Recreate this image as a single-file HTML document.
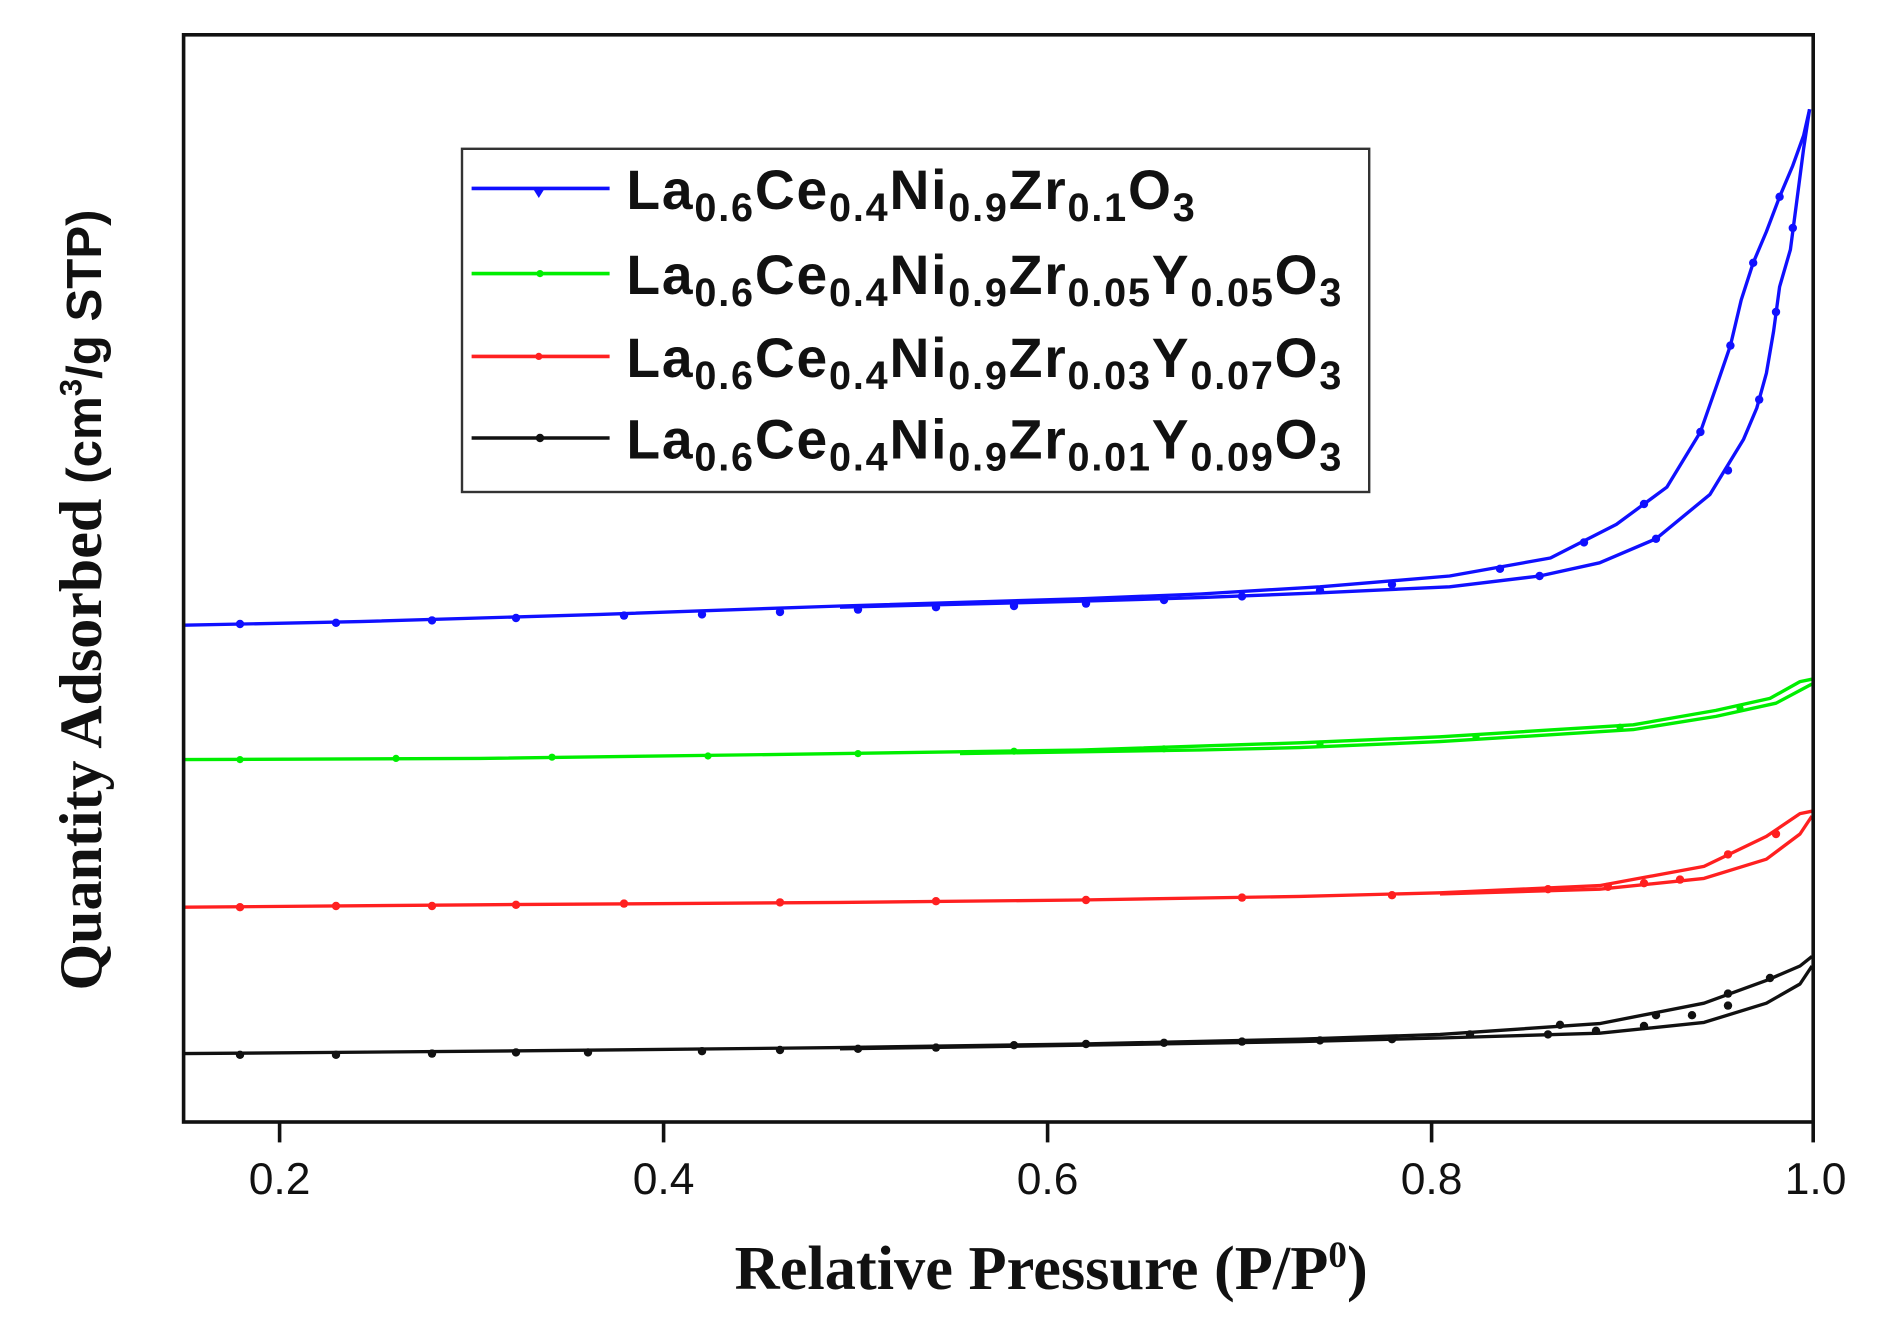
<!DOCTYPE html>
<html><head><meta charset="utf-8"><style>
html,body{margin:0;padding:0;background:#fff;}
svg{display:block;}
</style></head><body>
<svg width="1878" height="1323" viewBox="0 0 1565 1102.5" xmlns="http://www.w3.org/2000/svg">
<rect width="1565" height="1102.5" fill="#fff"/>
<g fill="none" stroke-width="2.8" stroke-linejoin="round">
<!-- blue -->
<polyline stroke="#1010ff" points="153,521 300,518 500,512 700,505 900,499 1000,495 1100,489 1208,480 1292,465 1347,437 1389,406 1417,360 1431,320 1442,288 1451,250 1461,219 1472,193 1483,164 1494,138 1503,113 1508,91"/>
<polyline stroke="#1010ff" points="700,506 900,501 1000,498 1100,494 1208,489 1283,480 1333,469 1380,449 1425,412 1453,366 1464,340 1472,311 1478,276 1483,239 1492,208 1497,170 1503,124 1508,91"/>
<!-- green -->
<polyline stroke="#00ee00" points="153,633 400,632 700,628 900,625 1083,619 1200,614 1361,604 1430,592 1475,582 1500,568 1510,566"/>
<polyline stroke="#00ee00" points="800,628 1000,625 1083,623 1200,618 1361,608 1430,597 1480,586 1510,570"/>
<!-- red -->
<polyline stroke="#ff2020" points="153,756 400,754 700,752 900,750 1083,747 1200,744 1333,738 1420,722 1472,697 1500,678 1510,676"/>
<polyline stroke="#ff2020" points="1200,745 1333,741 1420,732 1472,716 1500,695 1510,680"/>
<!-- black -->
<polyline stroke="#111" points="153,878 400,876 700,873 900,870 1083,866 1200,862 1333,853 1420,836 1472,817 1500,805 1510,797"/>
<polyline stroke="#111" points="700,874 900,871 1083,868 1200,865 1333,861 1420,852 1472,836 1500,820 1510,805"/>
</g>
<g fill="#1010ff">
<circle cx="200" cy="520" r="3.5"/><circle cx="280" cy="519" r="3.5"/><circle cx="360" cy="517" r="3.5"/><circle cx="430" cy="515" r="3.5"/><circle cx="520" cy="513" r="3.5"/><circle cx="585" cy="512" r="3.5"/><circle cx="650" cy="510" r="3.5"/><circle cx="715" cy="508" r="3.5"/><circle cx="780" cy="506" r="3.5"/><circle cx="845" cy="505" r="3.5"/><circle cx="905" cy="503" r="3.5"/><circle cx="970" cy="500" r="3.5"/><circle cx="1035" cy="497" r="3.5"/><circle cx="1100" cy="492" r="3.5"/><circle cx="1160" cy="487" r="3.5"/><circle cx="1250" cy="474" r="3.5"/><circle cx="1320" cy="452" r="3.5"/><circle cx="1370" cy="420" r="3.5"/><circle cx="1417" cy="360" r="3.5"/><circle cx="1442" cy="288" r="3.5"/><circle cx="1461" cy="219" r="3.5"/><circle cx="1483" cy="164" r="3.5"/><circle cx="1283" cy="480" r="3.5"/><circle cx="1380" cy="449" r="3.5"/><circle cx="1440" cy="392" r="3.5"/><circle cx="1466" cy="333" r="3.5"/><circle cx="1480" cy="260" r="3.5"/><circle cx="1494" cy="190" r="3.5"/>
</g>
<g fill="#00ee00">
<circle cx="200" cy="633" r="3"/><circle cx="330" cy="632" r="3"/><circle cx="460" cy="631" r="3"/><circle cx="590" cy="630" r="3"/><circle cx="715" cy="628" r="3"/><circle cx="845" cy="626" r="3"/><circle cx="970" cy="624" r="3"/><circle cx="1100" cy="620" r="3"/><circle cx="1230" cy="614" r="3"/><circle cx="1350" cy="606" r="3"/><circle cx="1450" cy="590" r="3"/>
</g>
<g fill="#ff2020">
<circle cx="200" cy="756" r="3.5"/><circle cx="280" cy="755" r="3.5"/><circle cx="360" cy="755" r="3.5"/><circle cx="430" cy="754" r="3.5"/><circle cx="520" cy="753" r="3.5"/><circle cx="650" cy="752" r="3.5"/><circle cx="780" cy="751" r="3.5"/><circle cx="905" cy="750" r="3.5"/><circle cx="1035" cy="748" r="3.5"/><circle cx="1160" cy="746" r="3.5"/><circle cx="1290" cy="741" r="3.5"/><circle cx="1340" cy="739" r="3.5"/><circle cx="1370" cy="736" r="3.5"/><circle cx="1400" cy="733" r="3.5"/><circle cx="1440" cy="712" r="3.5"/><circle cx="1480" cy="695" r="3.5"/>
</g>
<g fill="#111">
<circle cx="200" cy="879" r="3.5"/><circle cx="280" cy="879" r="3.5"/><circle cx="360" cy="878" r="3.5"/><circle cx="430" cy="877" r="3.5"/><circle cx="490" cy="877" r="3.5"/><circle cx="585" cy="876" r="3.5"/><circle cx="650" cy="875" r="3.5"/><circle cx="715" cy="874" r="3.5"/><circle cx="780" cy="873" r="3.5"/><circle cx="845" cy="871" r="3.5"/><circle cx="905" cy="870" r="3.5"/><circle cx="970" cy="869" r="3.5"/><circle cx="1035" cy="868" r="3.5"/><circle cx="1100" cy="867" r="3.5"/><circle cx="1160" cy="866" r="3.5"/><circle cx="1225" cy="862" r="3.5"/><circle cx="1290" cy="862" r="3.5"/><circle cx="1330" cy="859" r="3.5"/><circle cx="1370" cy="855" r="3.5"/><circle cx="1410" cy="846" r="3.5"/><circle cx="1440" cy="838" r="3.5"/><circle cx="1475" cy="815" r="3.5"/><circle cx="1300" cy="854" r="3.5"/><circle cx="1380" cy="846" r="3.5"/><circle cx="1440" cy="828" r="3.5"/>
</g>
<!-- axes -->
<rect x="153" y="29" width="1358" height="906" fill="none" stroke="#111" stroke-width="3"/>
<g stroke="#111" stroke-width="3">
<line x1="233" y1="935" x2="233" y2="952"/><line x1="553" y1="935" x2="553" y2="952"/><line x1="873" y1="935" x2="873" y2="952"/><line x1="1193" y1="935" x2="1193" y2="952"/><line x1="1511" y1="935" x2="1511" y2="952"/>
</g>
<g font-family="'Liberation Sans',Arial,sans-serif" font-size="37" fill="#111" text-anchor="middle">
<text x="233" y="995">0.2</text><text x="553" y="995">0.4</text><text x="873" y="995">0.6</text><text x="1193" y="995">0.8</text><text x="1513" y="995">1.0</text>
</g>
<text x="876" y="1074" text-anchor="middle" font-family="'Liberation Serif','Times New Roman',serif" font-weight="bold" font-size="52" fill="#111">Relative Pressure (P/P<tspan dy="-18" font-size="31">0</tspan><tspan dy="18">)</tspan></text>
<text transform="translate(84,500) rotate(-90)" text-anchor="middle" fill="#111" font-weight="bold"><tspan font-family="'Liberation Serif','Times New Roman',serif" font-size="50">Quantity Adsorbed </tspan><tspan font-family="'Liberation Sans',Arial,sans-serif" font-size="41">(cm</tspan><tspan font-family="'Liberation Sans',Arial,sans-serif" font-size="26" dy="-16">3</tspan><tspan font-family="'Liberation Sans',Arial,sans-serif" font-size="41" dy="16">/g STP)</tspan></text>
<!-- legend -->
<rect x="385" y="124" width="756" height="286" fill="#fff" stroke="#333" stroke-width="2"/>
<g stroke-width="3">
<line x1="393" y1="157" x2="508" y2="157" stroke="#1010ff"/>
<line x1="393" y1="228" x2="508" y2="228" stroke="#00ee00"/>
<line x1="393" y1="297" x2="508" y2="297" stroke="#ff2020"/>
<line x1="393" y1="365" x2="508" y2="365" stroke="#111"/>
</g>
<path d="M444,157 L454,157 L449,165 Z" fill="#1010ff"/>
<circle cx="450" cy="228" r="3" fill="#00ee00"/>
<circle cx="449" cy="297" r="3" fill="#ff2020"/>
<circle cx="450" cy="365" r="3.5" fill="#111"/>
<g font-family="'Liberation Sans',Arial,sans-serif" font-weight="bold" font-size="46" fill="#111" letter-spacing="1.5">
<text x="522" y="174">La<tspan font-size="33" dy="10">0.6</tspan><tspan dy="-10">Ce</tspan><tspan font-size="33" dy="10">0.4</tspan><tspan dy="-10">Ni</tspan><tspan font-size="33" dy="10">0.9</tspan><tspan dy="-10">Zr</tspan><tspan font-size="33" dy="10">0.1</tspan><tspan dy="-10">O</tspan><tspan font-size="33" dy="10">3</tspan></text>
<text x="522" y="245">La<tspan font-size="33" dy="10">0.6</tspan><tspan dy="-10">Ce</tspan><tspan font-size="33" dy="10">0.4</tspan><tspan dy="-10">Ni</tspan><tspan font-size="33" dy="10">0.9</tspan><tspan dy="-10">Zr</tspan><tspan font-size="33" dy="10">0.05</tspan><tspan dy="-10">Y</tspan><tspan font-size="33" dy="10">0.05</tspan><tspan dy="-10">O</tspan><tspan font-size="33" dy="10">3</tspan></text>
<text x="522" y="314">La<tspan font-size="33" dy="10">0.6</tspan><tspan dy="-10">Ce</tspan><tspan font-size="33" dy="10">0.4</tspan><tspan dy="-10">Ni</tspan><tspan font-size="33" dy="10">0.9</tspan><tspan dy="-10">Zr</tspan><tspan font-size="33" dy="10">0.03</tspan><tspan dy="-10">Y</tspan><tspan font-size="33" dy="10">0.07</tspan><tspan dy="-10">O</tspan><tspan font-size="33" dy="10">3</tspan></text>
<text x="522" y="382">La<tspan font-size="33" dy="10">0.6</tspan><tspan dy="-10">Ce</tspan><tspan font-size="33" dy="10">0.4</tspan><tspan dy="-10">Ni</tspan><tspan font-size="33" dy="10">0.9</tspan><tspan dy="-10">Zr</tspan><tspan font-size="33" dy="10">0.01</tspan><tspan dy="-10">Y</tspan><tspan font-size="33" dy="10">0.09</tspan><tspan dy="-10">O</tspan><tspan font-size="33" dy="10">3</tspan></text>
</g>
</svg>
</body></html>
